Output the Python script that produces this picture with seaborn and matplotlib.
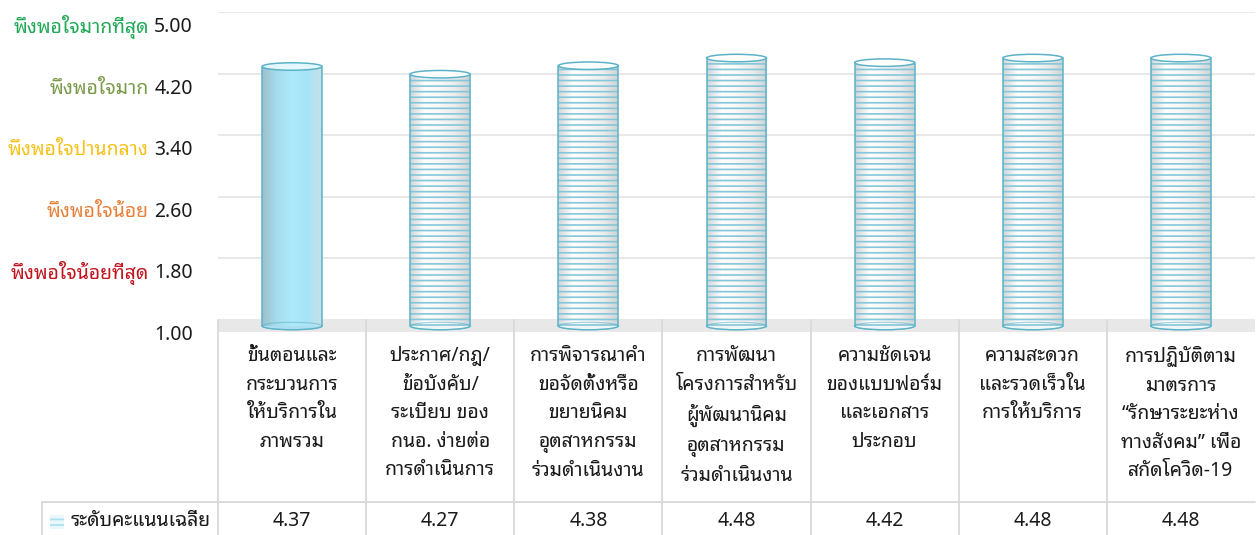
import numpy as np
import pandas as pd
import matplotlib
matplotlib.use("Agg")
import matplotlib.pyplot as plt
import seaborn as sns
from matplotlib import font_manager
from matplotlib.ft2font import FT2Font
from matplotlib.patches import Ellipse, Rectangle
from matplotlib.colors import LinearSegmentedColormap
import matplotlib.transforms as mtransforms

# ---------------- data ----------------
categories = [
    "ขั้นตอนและ\nกระบวนการ\nให้บริการใน\nภาพรวม",
    "ประกาศ/กฎ/\nข้อบังคับ/\nระเบียบ ของ\nกนอ. ง่ายต่อ\nการดำเนินการ",
    "การพิจารณาคำ\nขอจัดตั้งหรือ\nขยายนิคม\nอุตสาหกรรม\nร่วมดำเนินงาน",
    "การพัฒนา\nโครงการสำหรับ\nผู้พัฒนานิคม\nอุตสาหกรรม\nร่วมดำเนินงาน",
    "ความชัดเจน\nของแบบฟอร์ม\nและเอกสาร\nประกอบ",
    "ความสะดวก\nและรวดเร็วใน\nการให้บริการ",
    "การปฏิบัติตาม\nมาตรการ\n“รักษาระยะห่าง\nทางสังคม” เพื่อ\nสกัดโควิด-19",
]
values = [4.37, 4.27, 4.38, 4.48, 4.42, 4.48, 4.48]
value_labels = ["4.37", "4.27", "4.38", "4.48", "4.42", "4.48", "4.48"]
series_name = "ระดับคะแนนเฉลี่ย"
tick_values = [1.00, 1.80, 2.60, 3.40, 4.20, 5.00]
tick_labels = ["1.00", "1.80", "2.60", "3.40", "4.20", "5.00"]
level_labels = ["", "พึงพอใจน้อยที่สุด", "พึงพอใจน้อย", "พึงพอใจปานกลาง", "พึงพอใจมาก", "พึงพอใจมากที่สุด"]
level_colors = ["#000000", "#c0141e", "#e8803a", "#f5c21b", "#7a9a4a", "#1fa855"]

# ---------------- fonts ----------------
sns.set_theme(style="white")
thai_fonts = set()
for f in font_manager.fontManager.ttflist:
    try:
        ft = FT2Font(f.fname)
        if ft.get_char_index(0x0E01) and ft.get_char_index(0x0031):
            thai_fonts.add(f.name)
    except Exception:
        pass
pref = ["Tahoma", "Noto Sans Thai Looped", "Loma", "Noto Sans Thai", "Sarabun"]
chosen = next((p for p in pref if p in thai_fonts), None)
if chosen is None and thai_fonts:
    chosen = sorted(thai_fonts)[0]
plt.rcParams["font.family"] = ([chosen] if chosen else []) + ["DejaVu Sans"]
plt.rcParams["hatch.linewidth"] = 1.2

FS = 14

# ---------------- layout ----------------
W, H, DPI = 1258, 535, 100
fig = plt.figure(figsize=(W / DPI, H / DPI), dpi=DPI)
fig.patch.set_facecolor("white")

PX_UNIT = 77.0       # pixels per score unit
BASE = 1.0
base_px = 326
ax_top_px, ax_bot_px = 12, 332
ax = fig.add_axes([218 / W, 1 - ax_bot_px / H, (1255 - 218) / W, (ax_bot_px - ax_top_px) / H])
y_lo = BASE - (ax_bot_px - base_px) / PX_UNIT
y_hi = BASE + (base_px - ax_top_px) / PX_UNIT

df = pd.DataFrame({"category": categories, "value": values})
sns.barplot(data=df, x="category", y="value", ax=ax, width=0.405, color="white",
            linewidth=0, errorbar=None, zorder=3)

ax.set_xlim(-0.5, len(categories) - 0.5)
ax.set_ylim(y_lo, y_hi)
ax.set_xticks([])
ax.set_yticks([])
ax.set_xlabel("")
ax.set_ylabel("")
for s in ax.spines.values():
    s.set_visible(False)

# back-wall gridlines (shifted up a little, 3D look)
grid_tr = ax.transData + mtransforms.ScaledTranslation(0, 6 / DPI, fig.dpi_scale_trans)
for v in tick_values:
    ax.plot([-0.5, len(categories) - 0.5], [v, v], transform=grid_tr, color="#e8e8e8",
            lw=1.4, zorder=0, solid_capstyle="butt")
# floor
ax.axhspan(y_lo, BASE + 6 / PX_UNIT, color="#e8e8e8", zorder=0.5, lw=0)

# y tick labels with level names (front plane, shifted down)
lab_tr = mtransforms.blended_transform_factory(fig.transFigure, ax.transData) + \
    mtransforms.ScaledTranslation(0, -9 / DPI, fig.dpi_scale_trans)
for v, t, lv, c in zip(tick_values, tick_labels, level_labels, level_colors):
    ax.text(193 / W, v, t, transform=lab_tr, ha="right", va="center", fontsize=FS,
            color="#1a1a1a", clip_on=False)
    if lv:
        ax.text(149 / W, v, lv, transform=lab_tr, ha="right", va="center", fontsize=FS,
                color=c, clip_on=False)

# cylinders
edge_c = "#5cb3c8"
cm_fill = LinearSegmentedColormap.from_list("fill", ["#9dbfcc", "#a6dcec", "#aeeafa", "#a6e4f6", "#c7e0e8"])
cm_white = LinearSegmentedColormap.from_list("wh", ["#d2d6d8", "#ffffff", "#f8f8f8", "#ececec", "#cfd3d5"])
grad = np.linspace(0, 1, 256).reshape(1, -1)
eh = 7.5 / PX_UNIT
for i, (p, val) in enumerate(zip(ax.patches, values)):
    p.set_y(BASE)
    p.set_height(val - BASE)
    x0, w = p.get_x(), p.get_width()
    cx = x0 + w / 2
    top = BASE + p.get_height()
    ax.add_patch(Ellipse((cx, BASE), w, eh, facecolor="#a9dfee" if i == 0 else "#eef6f8",
                         edgecolor=edge_c, lw=1.0, zorder=2.5))
    im = ax.imshow(grad, cmap=cm_fill if i == 0 else cm_white, aspect="auto",
                   extent=[x0, x0 + w, BASE, top], zorder=3, interpolation="bilinear")
    im.set_clip_path(p)
    if i > 0:
        ax.add_patch(Rectangle((x0, BASE), w, val - BASE, facecolor="none", edgecolor="#84c7da",
                               hatch="---", lw=0, zorder=3.2))
    ax.plot([x0, x0], [BASE, top], color=edge_c, lw=1.1, zorder=3.5)
    ax.plot([x0 + w, x0 + w], [BASE, top], color=edge_c, lw=1.1, zorder=3.5)
    ax.add_patch(Ellipse((cx, BASE), w, eh, facecolor="none", edgecolor=edge_c, lw=0.8,
                         alpha=0.6, zorder=3.6))
    ax.add_patch(Ellipse((cx, top), w, eh, facecolor="#e4f7fc" if i == 0 else "#ffffff",
                         edgecolor=edge_c, lw=1.1, zorder=3.8))
ax.set_xlim(-0.5, len(categories) - 0.5)
ax.set_ylim(y_lo, y_hi)

# ---------------- data table ----------------
tax = fig.add_axes([218 / W, 0, (1255 - 218) / W, (H - 320) / H])
tax.set_xlim(-0.5, len(categories) - 0.5)
tax.set_ylim(H, 320)
tax.axis("off")
col_px = (1255 - 218) / len(categories)


def xpx(px):
    return -0.5 + (px - 218) / col_px


line_c = "#d9d9d9"
for i in range(len(categories)):
    tax.plot([i - 0.5, i - 0.5], [320, H], color=line_c, lw=1.3, clip_on=False)
tax.plot([xpx(42), len(categories) - 0.5], [502, 502], color=line_c, lw=1.3, clip_on=False)
tax.plot([xpx(42), xpx(42)], [502, H], color=line_c, lw=1.3, clip_on=False)

for i, (c, v) in enumerate(zip(categories, value_labels)):
    tax.text(i, 346, c, ha="center", va="top", fontsize=FS, linespacing=1.57,
             color="#1a1a1a")
    tax.text(i, 521, v, ha="center", va="center", fontsize=FS, color="#1a1a1a")

tax.add_patch(Rectangle((xpx(50), 515), xpx(64) - xpx(50), 14, facecolor="#eaf7fb",
                        edgecolor="#a8def0", hatch="---", lw=0, clip_on=False))
tax.text(xpx(71), 521, series_name, ha="left", va="center", fontsize=FS,
         color="#1a1a1a", clip_on=False)

fig.savefig("out.png", dpi=DPI, facecolor="white")
